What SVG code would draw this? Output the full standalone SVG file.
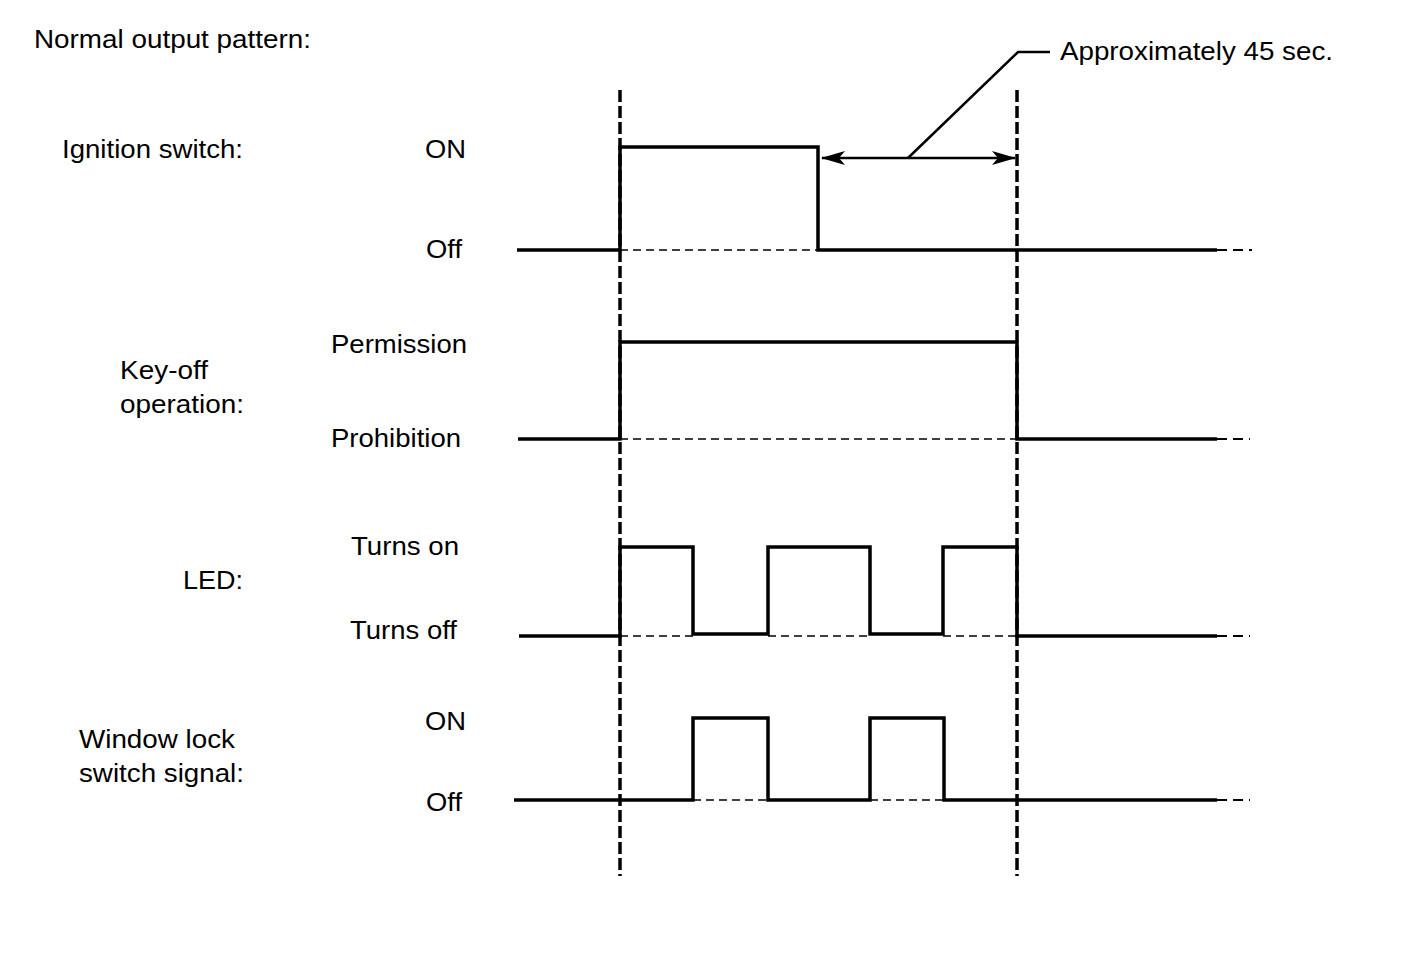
<svg xmlns="http://www.w3.org/2000/svg" width="1424" height="959" viewBox="0 0 1424 959">
<style>
text{font-family:"Liberation Sans",Arial,sans-serif;font-size:25px;fill:#000}
.sig{fill:none;stroke:#000;stroke-width:3.5;stroke-linejoin:miter}
.ref{fill:none;stroke:#000;stroke-width:1.6;stroke-dasharray:8,5}
.tail{fill:none;stroke:#000;stroke-width:1.8;stroke-dasharray:10,6}
.mark{fill:none;stroke:#000;stroke-width:3.5;stroke-dasharray:12,4}
.thin{fill:none;stroke:#000;stroke-width:2.5}
</style>
<defs>
<marker id="ah" viewBox="0 0 24 14" refX="23" refY="7" markerWidth="24" markerHeight="14" markerUnits="userSpaceOnUse" orient="auto-start-reverse">
<path d="M0,0 L24,7 L0,14 L6,7 Z" fill="#000"/>
</marker>
</defs>
<rect width="1424" height="959" fill="#fff"/>
<text x="34" y="48" textLength="277" lengthAdjust="spacingAndGlyphs">Normal output pattern:</text>
<g id="ignition">
<text x="62" y="158" textLength="181" lengthAdjust="spacingAndGlyphs">Ignition switch:</text>
<text x="425" y="158" textLength="41" lengthAdjust="spacingAndGlyphs">ON</text>
<text x="426" y="258" textLength="36" lengthAdjust="spacingAndGlyphs">Off</text>
<path class="ref" d="M620,250 H818"/>
<path class="sig" d="M517,250 H620 V147 H818 V250 H1217"/>
<path class="tail" d="M1217,250 H1252"/>
</g>
<g id="keyoff">
<text x="120" y="379" textLength="88" lengthAdjust="spacingAndGlyphs">Key-off</text>
<text x="120" y="413" textLength="124" lengthAdjust="spacingAndGlyphs">operation:</text>
<text x="331" y="353" textLength="136" lengthAdjust="spacingAndGlyphs">Permission</text>
<text x="331" y="447" textLength="130" lengthAdjust="spacingAndGlyphs">Prohibition</text>
<path class="ref" d="M620,439 H1017"/>
<path class="sig" d="M518,439 H620 V342 H1017 V439 H1217"/>
<path class="tail" d="M1217,439 H1250"/>
</g>
<g id="led">
<text x="183" y="589" textLength="60" lengthAdjust="spacingAndGlyphs">LED:</text>
<text x="351" y="555" textLength="108" lengthAdjust="spacingAndGlyphs">Turns on</text>
<text x="350" y="639" textLength="107" lengthAdjust="spacingAndGlyphs">Turns off</text>
<path class="ref" d="M620,636 H693 M768,636 H870 M943,636 H1017"/>
<path class="sig" d="M519,636 H620 V547 H693 V634 H768 V547 H870 V634 H943 V547 H1017 V636 H1217"/>
<path class="tail" d="M1217,636 H1250"/>
</g>
<g id="windowlock">
<text x="79" y="748" textLength="156" lengthAdjust="spacingAndGlyphs">Window lock</text>
<text x="79" y="782" textLength="165" lengthAdjust="spacingAndGlyphs">switch signal:</text>
<text x="425" y="730" textLength="41" lengthAdjust="spacingAndGlyphs">ON</text>
<text x="426" y="811" textLength="36" lengthAdjust="spacingAndGlyphs">Off</text>
<path class="ref" d="M693,800 H768 M870,800 H944"/>
<path class="sig" d="M514,800 H693 V718 H768 V800 H870 V718 H944 V800 H1217"/>
<path class="tail" d="M1217,800 H1250"/>
</g>
<g id="connectors">
<path class="mark" d="M620,90 V876"/>
<path class="mark" d="M1017,90 V876"/>
<path class="thin" d="M822,158 H1015" marker-start="url(#ah)" marker-end="url(#ah)"/>
<path class="thin" d="M908,158 L1018,52 H1050"/>
</g>
<g id="duration-label">
<text x="1060" y="60" textLength="273" lengthAdjust="spacingAndGlyphs">Approximately 45 sec.</text>
</g>
</svg>
